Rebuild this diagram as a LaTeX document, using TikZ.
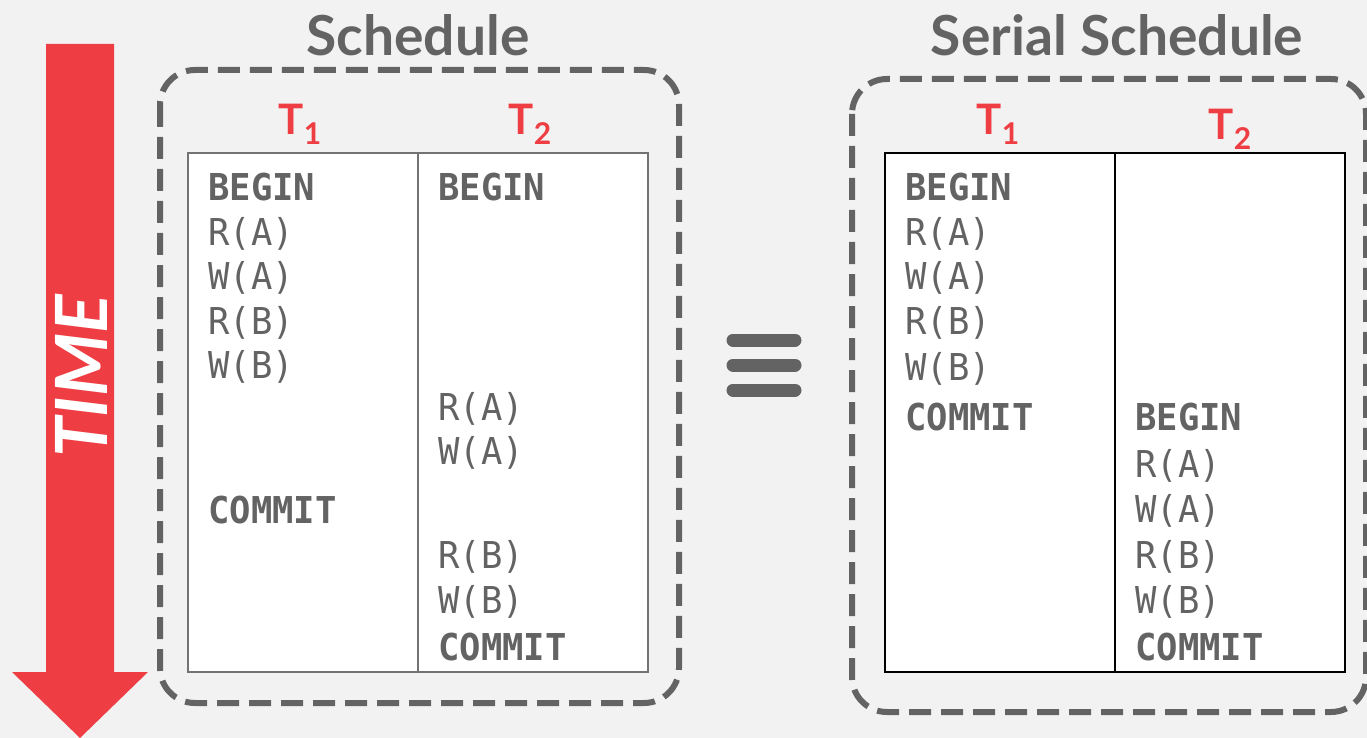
\documentclass[tikz,border=0pt]{standalone}
\usepackage{fontspec}
\setmainfont{Lato}
\newfontfamily\codefont[FakeStretch=0.96]{DejaVu Sans Mono}
\usetikzlibrary{positioning}
\definecolor{bggray}{HTML}{F2F2F2}
\definecolor{txtgray}{HTML}{636363}
\definecolor{red}{HTML}{EE3E44}
\newcommand{\txsub}[1]{\raisebox{-0.45ex}{\fontsize{15}{15}\selectfont #1}}

\begin{document}
\begin{tikzpicture}[x=0.5pt,y=-0.5pt,
    title/.style={text=txtgray, font=\fontsize{27.6}{30}\selectfont\bfseries},
    txn/.style={text=red, font=\fontsize{21}{24}\selectfont\bfseries},
    op/.style={anchor=base west, inner sep=0pt, text=txtgray, font=\codefont\fontsize{18.5}{20}\selectfont},
    kw/.style={op, font=\codefont\fontsize{18.5}{20}\selectfont\bfseries},
    group/.style={draw=txtgray, line width=3pt, dash pattern=on 11pt off 5pt, rounded corners=17.5pt},
    grid/.style={fill=white, line width=1pt}]
			\fill[bggray] (0,0) rectangle (1367,738);
			\useasboundingbox (0,0) rectangle (1367,738);

			% Time arrow
			\fill[red] (46,44) -- (114,44) -- (114,672) -- (148,672) -- (80,738)
				-- (12,672) -- (46,672) -- cycle;
			\node[rotate=90, text=white, font=\fontsize{36}{38}\selectfont\bfseries\itshape] (time) at (81,376) {TIME};

			% Interleaved schedule
			\node[title] (sched) at (418,35) {Schedule};
			\draw[group] (160,70) rectangle (679,703);
			\node[txn] (s1) at (300,124) {T\txsub{1}};
			\node[txn] (s2) at (530,124) {T\txsub{2}};
			\draw[grid, draw=txtgray!90] (188,153) rectangle (648,672);
			\draw[draw=txtgray!90, line width=1pt] (418,153) -- (418,672);

			\node[kw] (sa0) at (208,200) {BEGIN};
			\node[op] (sa1) at (208,245) {R(A)};
			\node[op] (sa2) at (208,290) {W(A)};
			\node[op] (sa3) at (208,334) {R(B)};
			\node[op] (sa4) at (208,378) {W(B)};
			\node[kw] (sa5) at (208,523) {COMMIT};

			\node[kw] (sb0) at (438,200) {BEGIN};
			\node[op] (sb1) at (438,420) {R(A)};
			\node[op] (sb2) at (438,464) {W(A)};
			\node[op] (sb3) at (438,568) {R(B)};
			\node[op] (sb4) at (438,613) {W(B)};
			\node[kw] (sb5) at (438,660) {COMMIT};

			% Equivalence sign
			\foreach \y in {340,365,390}
				\draw[txtgray, line width=6.5pt, line cap=round] (733,\y) -- (795,\y);

			% Serial schedule
			\node[title] (serial) at (1117,35) {Serial Schedule};
			\draw[group] (852,79) rectangle (1366,712);
			\node[txn] (r1) at (998,124) {T\txsub{1}};
			\node[txn] (r2) at (1230,129) {T\txsub{2}};
			\draw[grid, draw=black, line width=1.2pt] (885,153) rectangle (1345,672);
			\draw[black, line width=1.2pt] (1115,153) -- (1115,672);

			\node[kw] (ra0) at (905,200) {BEGIN};
			\node[op] (ra1) at (905,245) {R(A)};
			\node[op] (ra2) at (905,290) {W(A)};
			\node[op] (ra3) at (905,334) {R(B)};
			\node[op] (ra4) at (905,380) {W(B)};
			\node[kw] (ra5) at (905,430) {COMMIT};

			\node[kw] (rb0) at (1135,430) {BEGIN};
			\node[op] (rb1) at (1135,477) {R(A)};
			\node[op] (rb2) at (1135,522) {W(A)};
			\node[op] (rb3) at (1135,568) {R(B)};
			\node[op] (rb4) at (1135,613) {W(B)};
			\node[kw] (rb5) at (1135,660) {COMMIT};
		\end{tikzpicture}
\end{document}
